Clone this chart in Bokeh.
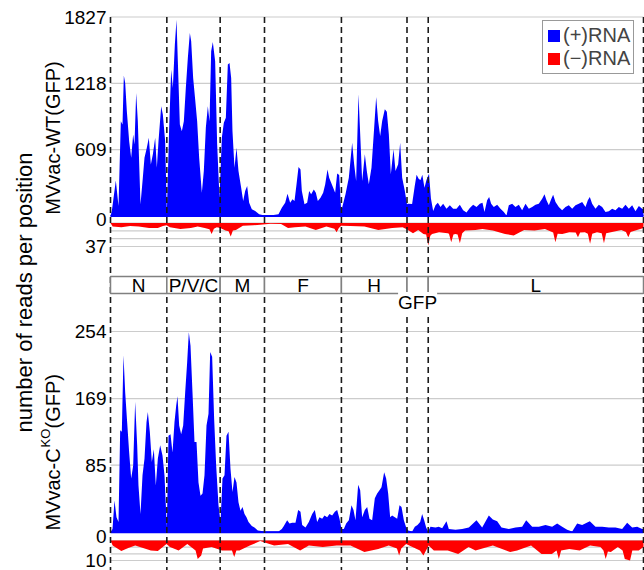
import math
from bokeh.plotting import figure
from bokeh.models import Range1d, Label, Legend, LegendItem
from bokeh.core.properties import value
from bokeh.embed import file_html
from bokeh.resources import INLINE

# ------------------------------------------------------------------ data
genome_length = 16700
gene_names = ["N", "P/V/C", "M", "F", "H", "GFP", "L"]
gene_starts = [0, 1765, 3436, 4825, 7235, 9290, 9955]
gene_ends = [1765, 3436, 4825, 7235, 9290, 9955, 16700]

# (genome position, reads)
wt_plus_profile = [
    (0, 0), (42, 45), (167, 327), (251, 92), (324, 870), (376, 840), (418, 1289), (460, 1222),
    (512, 962), (585, 687), (648, 535), (710, 748), (752, 657), (804, 1130), (856, 870), (940, 107),
    (1013, 351), (1065, 535), (1138, 626), (1201, 718), (1264, 473), (1326, 565), (1400, 718),
    (1452, 443), (1504, 687), (1588, 1008), (1640, 932), (1713, 687), (1765, 30),
    (1838, 810), (1901, 1344), (1953, 1176), (2016, 1573), (2068, 1802), (2110, 1420), (2173, 840),
    (2235, 779), (2298, 870), (2360, 1176), (2423, 1451), (2486, 1680), (2528, 1604), (2590, 1268),
    (2653, 1069), (2715, 870), (2778, 535), (2862, 214), (2924, 412), (2987, 810), (3050, 1008),
    (3102, 870), (3154, 1512), (3206, 1598), (3279, 1420), (3342, 657), (3415, 168),
    (3488, 718), (3551, 855), (3614, 901), (3676, 1390), (3729, 1405), (3781, 1268), (3822, 779),
    (3885, 443), (3948, 626), (4010, 412), (4094, 260), (4157, 137), (4219, 229), (4282, 275),
    (4345, 122), (4428, 61), (4533, 46), (4658, 15), (4794, 6),
    (5055, 6), (5264, 15), (5368, 76), (5473, 122), (5546, 205), (5629, 122), (5703, 153),
    (5765, 137), (5828, 290), (5891, 449), (5953, 428), (5995, 229), (6078, 107), (6162, 122),
    (6225, 229), (6287, 199), (6371, 244), (6434, 214), (6496, 137), (6580, 168), (6663, 214),
    (6726, 290), (6799, 428), (6851, 351), (6914, 305), (6977, 260), (7039, 214), (7102, 391),
    (7165, 376), (7227, 46),
    (7259, 77), (7363, 199), (7467, 352), (7572, 673), (7634, 474), (7697, 321), (7770, 1117),
    (7833, 689), (7885, 321), (7969, 566), (8031, 413), (8094, 291), (8177, 444), (8261, 811),
    (8324, 1092), (8386, 872), (8449, 734), (8512, 872), (8595, 979), (8658, 958), (8721, 750),
    (8783, 383), (8867, 612), (8930, 413), (9013, 474), (9076, 673), (9139, 352), (9222, 230),
    (9290, 107),
    (9320, 113), (9450, 110), (9530, 270), (9590, 378), (9660, 340), (9713, 330), (9770, 378),
    (9838, 260), (9900, 330), (9980, 389), (10040, 160), (10110, 45),
    (10183, 98), (10256, 122), (10339, 83), (10423, 113), (10527, 67), (10632, 98), (10736, 67),
    (10841, 67), (10945, 104), (11049, 52), (11154, 31), (11258, 73), (11363, 104), (11467, 83),
    (11572, 113), (11655, 122), (11718, 37), (11801, 144), (11864, 174), (11927, 113), (12010, 83),
    (12115, 104), (12219, 67), (12324, 37), (12407, 5), (12480, 98), (12585, 113), (12689, 83),
    (12794, 104), (12898, 52), (13003, 113), (13107, 67), (13211, 83), (13316, 104), (13420, 113),
    (13525, 159), (13598, 199), (13661, 144), (13734, 98), (13807, 153), (13869, 196), (13943, 128),
    (14047, 83), (14151, 52), (14256, 83), (14360, 98), (14465, 67), (14569, 98), (14674, 113),
    (14778, 128), (14882, 83), (14956, 144), (15018, 174), (15091, 113), (15196, 67), (15300, 104),
    (15405, 83), (15509, 37), (15614, 43), (15718, 67), (15822, 52), (15927, 83), (16031, 67),
    (16136, 104), (16240, 67), (16345, 98), (16449, 43), (16554, 92), (16658, 67), (16700, 60),
]

wt_minus_profile = [
    (0, 0), (68, 5.7), (340, 6.8), (612, 4.7), (884, 5.7), (1210, 7.8), (1482, 7.8), (1645, 4.7),
    (1754, 3.6), (1863, 6.8), (2189, 9.4), (2516, 7.8), (2733, 5.7), (2951, 7.8), (3100, 10),
    (3168, 17.2), (3240, 9), (3331, 6.8), (3440, 7.8), (3603, 12), (3700, 13), (3767, 21.4),
    (3835, 12), (3930, 11), (4147, 4.2), (4474, 3.6), (4691, 2.6), (5018, 1), (5344, 1.6),
    (5562, 7.8), (5779, 6.8), (6106, 5.7), (6432, 11), (6763, 5.7), (7015, 9), (7085, 14.6),
    (7155, 8), (7226, 4.2), (7520, 4.7), (7955, 5.7), (8390, 11), (8825, 7.8), (9152, 6.8),
    (9282, 9.9), (9478, 16.2), (9641, 11), (9804, 17.2), (9890, 18), (9957, 35.4), (10020, 20),
    (10076, 17.2), (10294, 14.6), (10566, 16.2), (10605, 17), (10675, 30.2), (10745, 18),
    (10806, 17.2), (10875, 18), (10947, 31.8), (11020, 16), (11110, 12), (11436, 11), (11654, 9.4),
    (11980, 12), (12361, 17.2), (12633, 19.8), (12959, 11), (13286, 12), (13612, 9.4), (13870, 15),
    (13939, 30.2), (14010, 17), (14156, 17.2), (14374, 14.6), (14575, 15), (14646, 22.4),
    (14715, 15), (14863, 14.6), (14955, 17), (15026, 32.8), (15095, 17), (15243, 14.6),
    (15390, 16), (15461, 31.8), (15530, 16), (15678, 14.6), (16005, 11), (16150, 14),
    (16223, 22.4), (16295, 14), (16495, 11), (16700, 7.8),
]

ko_plus_profile = [
    (0, 0), (63, 4), (125, 40), (188, 19), (251, 13), (303, 129), (355, 127), (407, 224), (460, 177),
    (522, 139), (585, 101), (648, 68), (710, 84), (773, 165), (836, 110), (877, 59), (940, 23),
    (1003, 72), (1065, 93), (1128, 139), (1170, 152), (1232, 127), (1295, 89), (1358, 105),
    (1420, 59), (1483, 93), (1556, 110), (1629, 97), (1692, 72), (1765, 6),
    (1817, 122), (1880, 124), (1943, 101), (2005, 139), (2058, 160), (2099, 172), (2152, 135),
    (2214, 124), (2277, 135), (2340, 177), (2402, 215), (2454, 253), (2507, 236), (2569, 177),
    (2632, 114), (2695, 114), (2757, 63), (2820, 46), (2883, 49), (2945, 72), (3008, 135),
    (3071, 150), (3123, 228), (3185, 222), (3248, 143), (3311, 84), (3384, 34), (3447, 13),
    (3509, 68), (3572, 72), (3634, 122), (3697, 127), (3760, 80), (3822, 51), (3885, 70),
    (3948, 63), (4010, 38), (4073, 27), (4136, 32), (4199, 23), (4261, 19), (4324, 13),
    (4428, 8), (4512, 6), (4616, 2), (4846, 1), (5055, 1), (5264, 1), (5368, 4),
    (5431, 8), (5535, 15), (5608, 11), (5692, 12), (5796, 12), (5880, 28), (5953, 26), (6005, 9),
    (6110, 6), (6214, 13), (6319, 23), (6402, 28), (6475, 13), (6548, 19), (6632, 17), (6705, 21),
    (6788, 19), (6861, 23), (6945, 21), (7029, 26), (7102, 28), (7175, 17), (7238, 4),
    (7311, 4), (7384, 11), (7467, 15), (7551, 34), (7614, 28), (7676, 15), (7760, 60), (7823, 53),
    (7885, 19), (7969, 28), (8042, 32), (8115, 17), (8198, 15), (8282, 43), (8355, 49), (8428, 53),
    (8491, 57), (8574, 76), (8637, 68), (8700, 49), (8762, 19), (8825, 21), (8909, 19), (8982, 17),
    (9055, 34), (9118, 32), (9191, 15), (9264, 6), (9327, 2),
    (9452, 1), (9535, 7), (9619, 9), (9702, 13), (9765, 23), (9828, 15), (9890, 6), (9953, 1),
    (10026, 7), (10183, 6), (10287, 7), (10392, 5), (10527, 14), (10600, 4), (10809, 3),
    (11018, 4), (11227, 6), (11467, 15), (11645, 6), (11854, 21), (11979, 16), (12115, 14),
    (12251, 6), (12481, 4), (12689, 6), (12898, 7), (13024, 15), (13212, 7), (13421, 7),
    (13629, 9), (13838, 7), (13995, 11), (14152, 7), (14308, 3), (14465, 1), (14621, 11),
    (14778, 9), (15018, 14), (15196, 7), (15405, 7), (15614, 6), (15822, 6), (16031, 4),
    (16188, 12), (16345, 6), (16502, 7), (16658, 4), (16700, 4),
]

ko_minus_profile = [
    (0, 0), (68, 2.5), (340, 5.3), (557, 3.7), (775, 2.5), (1265, 5), (1482, 5.3), (1754, 1.7),
    (1863, 3.3), (2135, 5), (2407, 1.7), (2665, 5), (2733, 9.2), (2842, 7.5), (2900, 4),
    (3168, 3.3), (3494, 5), (3805, 5), (3876, 8.3), (3945, 5), (4039, 5), (4365, 2.5), (4691, 0.3),
    (5127, 2.5), (5562, 1.7), (5942, 5), (6215, 2.5), (6650, 3.3), (7085, 2.5), (7520, 2.5),
    (7955, 5.8), (8390, 4.2), (8716, 2.5), (8975, 4), (9043, 7.5), (9110, 4), (9261, 1.7),
    (9696, 5), (9804, 7.5), (9967, 2.5), (10131, 5), (10566, 5), (10892, 6.7), (11219, 3.3),
    (11436, 5), (11980, 2.5), (12524, 5.8), (12742, 5), (13177, 2.5), (13504, 6.7), (13830, 6.7),
    (13975, 5), (14047, 9.2), (14120, 5), (14374, 4.2), (14700, 5), (15026, 2.5), (15352, 3.3),
    (15445, 5), (15515, 9.2), (15585, 5.5), (15678, 5.8), (15896, 3.3), (16045, 5), (16114, 9.2),
    (16278, 10), (16350, 5), (16549, 5), (16700, 3.3),
]

wt_plus_ticks = [609, 1218, 1827]
wt_minus_max = 37
ko_plus_ticks = [85, 169, 254]
ko_minus_max = 10

# ------------------------------------------------------------------ layout helpers
FONT = "Liberation Sans"
FIG_W, FIG_H = 644, 570
X0_PX, X1_PX = 110.0, 643.0          # where genome 0 and genome end sit on the canvas
NT_PER_PX = genome_length / (X1_PX - X0_PX)
x_rng = Range1d(start=-X0_PX * NT_PER_PX, end=genome_length + (FIG_W - X1_PX) * NT_PER_PX)
FRAME_TOP, FRAME_BOT = 0.0, float(FIG_H)


def band(v_a, px_a, v_b, px_b):
    slope = (v_b - v_a) / (px_b - px_a)
    return Range1d(start=v_a + slope * (FRAME_BOT - px_a), end=v_a + slope * (FRAME_TOP - px_a))


def val_at(rng, px):
    frac = (FRAME_BOT - px) / (FRAME_BOT - FRAME_TOP)
    return rng.start + frac * (rng.end - rng.start)


wt_plus_rng = band(0, 215.5, 1827, 16.5)
wt_minus_rng = band(0, 222.5, wt_minus_max, 246.0)
map_rng = band(0, 293.0, 1, 276.0)
ko_plus_rng = band(0, 531.7, 254, 331.0)
ko_minus_rng = band(0, 540.0, ko_minus_max, 560.0)

p = figure(width=FIG_W, height=FIG_H, x_range=x_rng, y_range=wt_plus_rng,
           output_backend="svg", toolbar_location=None,
           x_axis_location=None, y_axis_location=None,
           min_border_left=0, min_border_right=0, min_border_top=0, min_border_bottom=0,
           outline_line_color=None, background_fill_color="white", border_fill_color="white")
p.extra_y_ranges = {"wt_minus": wt_minus_rng, "map": map_rng,
                    "ko_plus": ko_plus_rng, "ko_minus": ko_minus_rng}
p.grid.visible = False

GRID = dict(line_color="#cccccc", line_width=1.2, level="underlay")


def hgrid(levels, rname="default"):
    n = len(levels)
    p.segment(x0=[0] * n, x1=[genome_length] * n, y0=levels, y1=levels, y_range_name=rname, **GRID)


hgrid(wt_plus_ticks)
hgrid(ko_plus_ticks, "ko_plus")
hgrid([wt_minus_max * i / 3.0 for i in range(4)], "wt_minus")
hgrid([ko_minus_max * i / 3.0 for i in range(4)], "ko_minus")


def unzip(profile):
    return [a for a, _ in profile], [b for _, b in profile]


BLUE, RED = "#0000ff", "#ff0000"
x, y = unzip(wt_plus_profile)
r_plus = p.varea(x=x, y1=0, y2=y, fill_color=BLUE)
x, y = unzip(wt_minus_profile)
r_minus = p.varea(x=x, y1=0, y2=y, fill_color=RED, y_range_name="wt_minus")
x, y = unzip(ko_plus_profile)
p.varea(x=x, y1=0, y2=y, fill_color=BLUE, y_range_name="ko_plus")
x, y = unzip(ko_minus_profile)
p.varea(x=x, y1=0, y2=y, fill_color=RED, y_range_name="ko_minus")

# blue zero lines of the (+) strips
p.segment(x0=[0], x1=[genome_length], y0=[0], y1=[0], line_color=BLUE, line_width=2)
p.segment(x0=[0], x1=[genome_length], y0=[0], y1=[0], line_color=BLUE, line_width=2,
          y_range_name="ko_plus")

# gene boundaries (dashed), from the top grid line to the bottom of the picture
bounds = gene_starts + [gene_ends[-1]]
p.segment(x0=bounds, x1=bounds, y0=[wt_plus_ticks[-1]] * len(bounds),
          y1=[val_at(wt_plus_rng, FRAME_BOT)] * len(bounds),
          line_color="#1a1a1a", line_width=1.6, line_dash="6 4")

# gene map
p.quad(left=gene_starts, right=gene_ends, bottom=0, top=1, y_range_name="map",
       fill_color="white", line_color="#808080", line_width=1.5, level="overlay")
centers = [(a + b) / 2 for a, b in zip(gene_starts, gene_ends)]
inbox = [(c, n) for c, n in zip(centers, gene_names) if n != "GFP"]
p.text(x=[c for c, _ in inbox], y=[0.5] * len(inbox), text=[n for _, n in inbox],
       y_range_name="map", text_align="center", text_baseline="middle",
       text_font=value(FONT), text_font_size="19px", text_color="black", level="overlay")
gi = gene_names.index("GFP")
p.add_layout(Label(x=centers[gi], y=val_at(map_rng, 302.0), y_range_name="map", text="GFP",
                   text_align="center", text_baseline="middle", text_font=FONT,
                   text_font_size="19px", text_color="black", background_fill_color="white",
                   level="overlay"))

# tick labels
TL = dict(x=0, x_offset=-4, text_align="right", text_baseline="middle", text_font=FONT,
          text_font_size="19px", text_color="black")
for t in wt_plus_ticks:
    p.add_layout(Label(y=t, text=str(t), **TL))
p.add_layout(Label(y=val_at(wt_plus_rng, (215.5 + 222.5) / 2), text="0", **TL))
p.add_layout(Label(y=wt_minus_max, y_range_name="wt_minus", text=str(wt_minus_max), **TL))
for t in ko_plus_ticks:
    p.add_layout(Label(y=t, y_range_name="ko_plus", text=str(t), **TL))
p.add_layout(Label(y=val_at(ko_plus_rng, (531.7 + 540.0) / 2), y_range_name="ko_plus", text="0", **TL))
p.add_layout(Label(y=ko_minus_max, y_range_name="ko_minus", text=str(ko_minus_max), **TL))

# rotated titles
ROT = dict(x=0, angle=math.pi / 2, text_baseline="middle", text_font=FONT, text_color="black")
p.add_layout(Label(x_offset=-86, y=val_at(map_rng, 292.0), y_range_name="map",
                   text="number of reads per position", text_align="center",
                   text_font_size="22px", **ROT))
p.add_layout(Label(x_offset=-58, y=val_at(wt_plus_rng, 137.5), text="MVvac-WT(GFP)",
                   text_align="center", text_font_size="20px", **ROT))
p.add_layout(Label(x_offset=-58, y=val_at(ko_plus_rng, 530.0), y_range_name="ko_plus",
                   text="MVvac-C", text_align="left", text_font_size="20px", **ROT))
p.add_layout(Label(x_offset=-65, y=val_at(ko_plus_rng, 447.0), y_range_name="ko_plus",
                   text="KO", text_align="left", text_font_size="13px", **ROT))
p.add_layout(Label(x_offset=-58, y=val_at(ko_plus_rng, 428.0), y_range_name="ko_plus",
                   text="(GFP)", text_align="left", text_font_size="20px", **ROT))

legend = Legend(items=[LegendItem(label="(+)RNA", renderers=[r_plus]),
                       LegendItem(label="(\u2212)RNA", renderers=[r_minus])],
                location=(542, 496), padding=3, spacing=0,
                glyph_width=15, glyph_height=15, label_standoff=2, label_height=20,
                label_text_font=FONT, label_text_font_size="20px",
                border_line_color="#333333", border_line_width=1.5,
                background_fill_color="white", background_fill_alpha=1.0, level="overlay")
p.add_layout(legend)

open("out.html", "w").write(file_html(p, INLINE))
